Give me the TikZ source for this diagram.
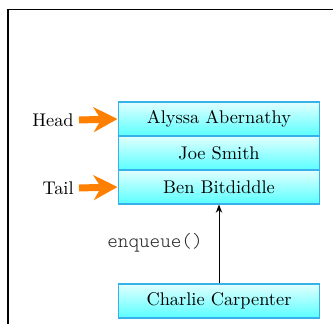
\documentclass[tikz,border=0pt]{standalone}
\usepackage{fontspec}
\newfontfamily\courfont{Latin Modern Mono Light}
\usetikzlibrary{arrows.meta}
\begin{document}
\begin{tikzpicture}[x=0.545pt,y=-0.545pt,
  person/.style={draw=cyan!90!blue!80, line width=0.6pt, top color=cyan!12, bottom color=cyan!65,
    minimum width=110pt, minimum height=18.5pt, inner sep=0pt, font=\normalsize},
  pointer/.style={draw=orange, line width=3.8pt, -{Stealth[length=13pt,width=13.5pt,inset=4pt]}},
  lbl/.style={anchor=east, inner sep=0pt}
]
\useasboundingbox (0,0) rectangle (333,324);
\draw[line width=0.8pt] (8,324) -- (8,9.5) -- (333,9.5);
\node[person] (a) at (219,119) {Alyssa Abernathy};
\node[person] (j) at (219,153) {Joe Smith};
\node[person] (b) at (219,187) {Ben Bitdiddle};
\node[person] (c) at (219,301) {Charlie Carpenter};
\node[lbl] (head) at (74,120) {Head};
\node[lbl] (tail) at (74,188) {Tail};
\draw[pointer] (head.east) ++(5,0) -- (a.west);
\draw[pointer] (tail.east) ++(5,0) -- (b.west);
\draw[-{Stealth[length=4.5pt,width=3.5pt]}, line width=0.5pt] (c.north) -- (b.south);
\node[font=\courfont\fontsize{11}{13}\selectfont, text=black!85] (enq) at (155,243) {enqueue()};
\end{tikzpicture}
\end{document}
